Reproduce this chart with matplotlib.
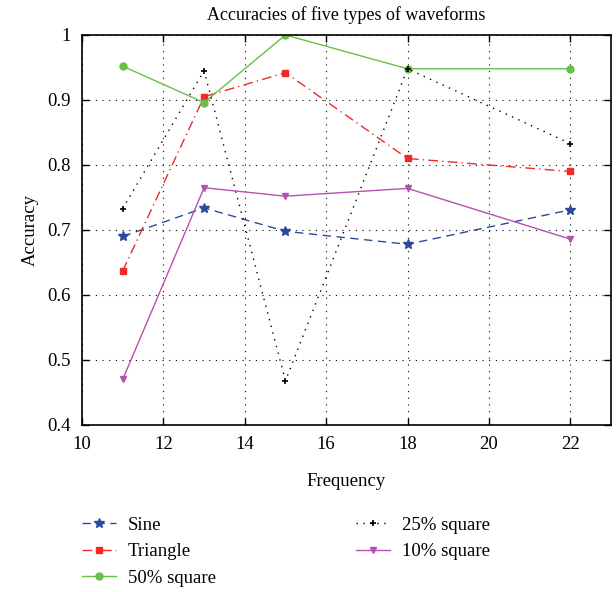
import matplotlib.pyplot as plt

freq = [11, 13, 15, 18, 22]

sine = [0.690, 0.734, 0.698, 0.678, 0.731]
triangle = [0.637, 0.905, 0.942, 0.810, 0.790]
square50 = [0.952, 0.896, 1.000, 0.948, 0.948]
square25 = [0.733, 0.945, 0.468, 0.948, 0.833]
square10 = [0.470, 0.765, 0.752, 0.764, 0.686]

labels = ["Sine", "Triangle", "50% square", "25% square", "10% square"]

plt.rcParams['font.family'] = ['Liberation Serif', 'DejaVu Serif']
plt.rcParams['font.size'] = 13

fig = plt.figure(figsize=(6.16, 5.92), dpi=100)
ax = fig.add_axes([0.1331, 0.2821, 0.8588, 0.6588])

ax.plot(freq, sine, color='#2b4a9c', linestyle=(0, (6, 4)), marker='*', markersize=7, linewidth=1.0, label=labels[0])
ax.plot(freq, triangle, color='#ee2a2a', linestyle=(0, (7, 3, 1, 3)), marker='s', markersize=5, linewidth=1.0, label=labels[1])
ax.plot(freq, square50, color='#6abf4b', linestyle='-', marker='o', markersize=5, linewidth=1.0, label=labels[2])
ax.plot(freq, square25, color='black', linestyle=(0, (1, 4)), marker='+', markersize=5, markeredgewidth=1.2, linewidth=1.0, label=labels[3])
ax.plot(freq, square10, color='#b552b0', linestyle='-', marker='v', markersize=5, linewidth=1.0, label=labels[4])

ax.set_xlim(10, 23)
ax.set_ylim(0.4, 1.0)
ax.set_xticks([10, 12, 14, 16, 18, 20, 22])
ax.set_yticks([0.4, 0.5, 0.6, 0.7, 0.8, 0.9, 1.0])
ax.set_yticklabels(["0.4", "0.5", "0.6", "0.7", "0.8", "0.9", "1"])
ax.tick_params(direction='in', top=True, right=True, length=5, width=1, pad=8, labelsize=13.5)
ax.grid(True, color='black', linestyle=(0, (1, 5)), linewidth=0.8)
for s in ax.spines.values():
    s.set_linewidth(1.2)

ax.set_title("Accuracies of five types of waveforms", fontsize=13, pad=11)
ax.set_xlabel("Frequency", labelpad=14, fontsize=13.5)
ax.set_ylabel("Accuracy", labelpad=6, fontsize=13.5)

fig.legend(loc='upper left', bbox_to_anchor=(0.133, 0.127), ncol=2, frameon=False,
           fontsize=13.5, columnspacing=7.5, handlelength=1.8, handletextpad=0.65,
           labelspacing=0.5, borderpad=0, borderaxespad=0)

fig.savefig("out.png", dpi=100)
